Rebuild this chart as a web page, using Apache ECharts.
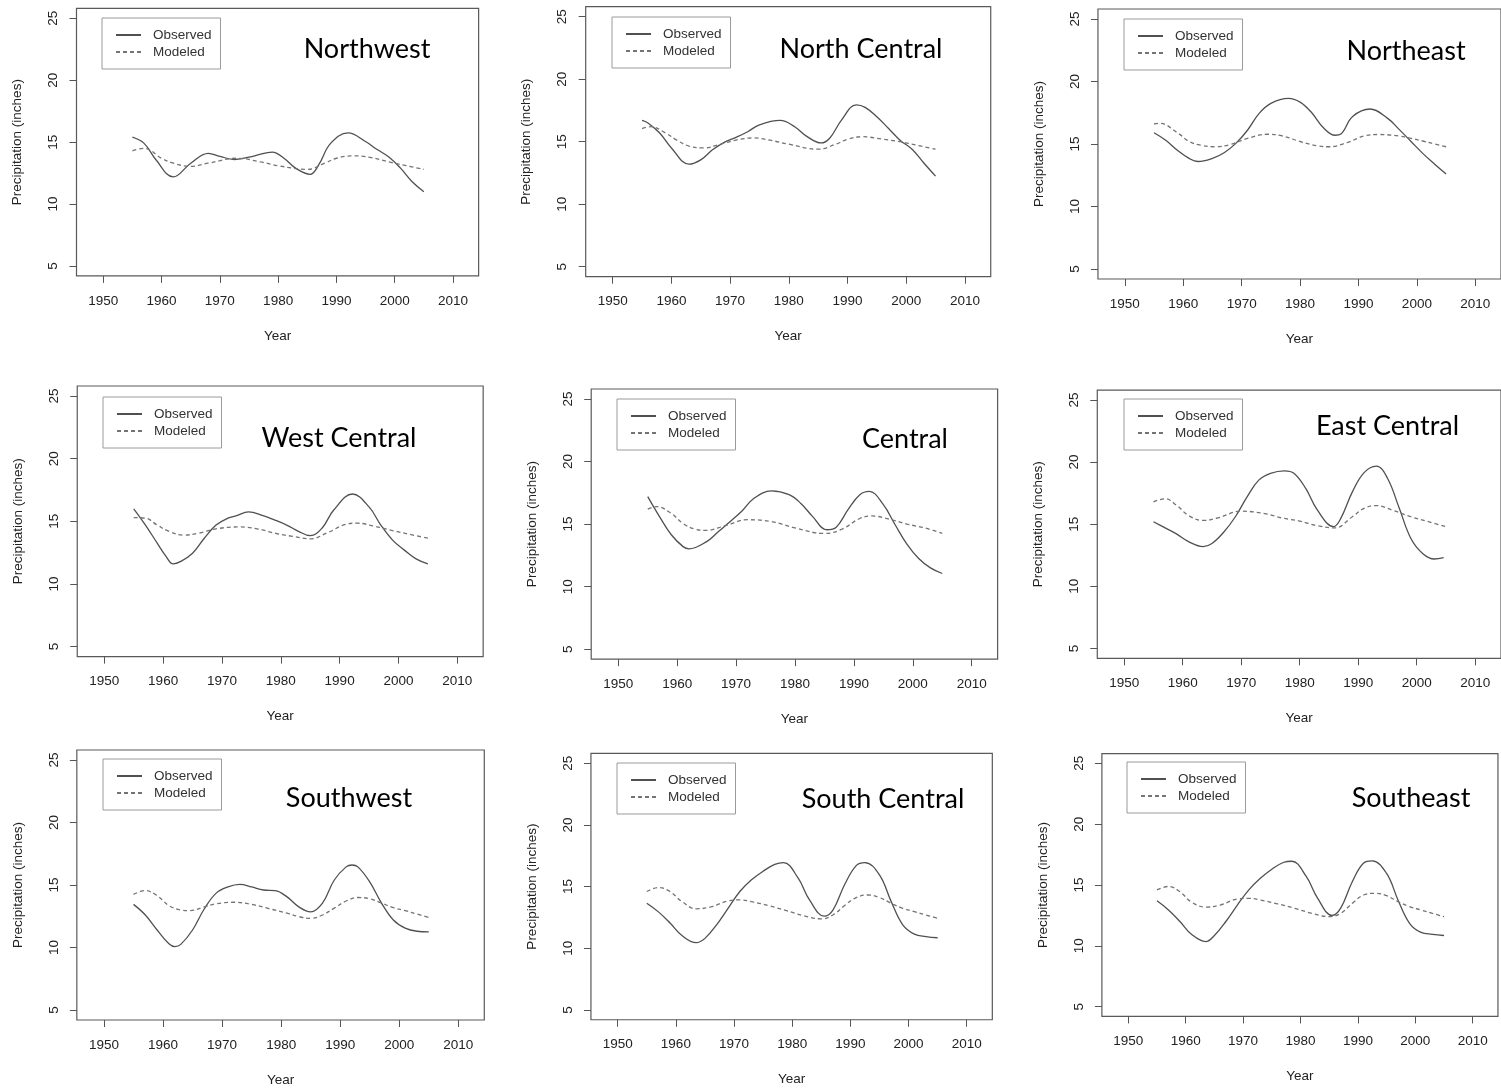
<!DOCTYPE html>
<html>
<head>
<meta charset="utf-8">
<script src="https://cdn.jsdelivr.net/npm/echarts@6/dist/echarts.min.js"></script>
<style>
html,body{margin:0;padding:0;background:#ffffff;}
#chart{width:1501px;height:1091px;}
</style>
</head>
<body>
<div id="chart"></div>
<script>
// ---------------- data: [year, precipitation in inches] ----------------
const regionNames = ['Northwest','North Central','Northeast','West Central','Central','East Central','Southwest','South Central','Southeast'];
const xTickValues = [1950,1960,1970,1980,1990,2000,2010];
const yTickValues = [5,10,15,20,25];

const observedNW = [[1955,15.4],[1957,14.9],[1959,13.6],[1962,12.2],[1965,13.3],[1968,14.1],[1970,13.85],[1972.5,13.6],[1976,13.9],[1979,14.2],[1981,13.7],[1983,12.9],[1985.5,12.4],[1987,13.2],[1989,14.9],[1992,15.75],[1995,15.05],[1997,14.4],[1999,13.8],[2001,12.9],[2003,11.8],[2005,11.0]];
const modeledNW  = [[1955,14.3],[1957,14.5],[1960,13.7],[1962,13.3],[1965,13.05],[1968,13.3],[1973,13.7],[1977,13.4],[1980,13.1],[1985,12.8],[1988,13.3],[1990,13.7],[1993,13.9],[1996,13.75],[1999,13.4],[2002,13.1],[2005,12.8]];

const observedNC = [[1955,16.7],[1956,16.5],[1958,15.7],[1960,14.5],[1963,13.2],[1965,13.55],[1967,14.35],[1969,14.95],[1971,15.35],[1973,15.8],[1975,16.35],[1978.5,16.7],[1981,16.2],[1983,15.45],[1985.5,14.9],[1987,15.3],[1989,16.75],[1991.5,17.95],[1993,17.75],[1995,17.0],[1997,16.05],[1999,15.1],[2001,14.4],[2003,13.3],[2005,12.25]];
const modeledNC  = [[1955,16.05],[1956.5,16.2],[1959,15.7],[1961,15.1],[1963,14.65],[1965.5,14.5],[1968,14.75],[1971,15.13],[1974,15.3],[1977,15.1],[1980,14.8],[1985,14.4],[1988,14.8],[1990,15.2],[1992.5,15.4],[1996,15.2],[1999,15.0],[2002,14.7],[2005,14.4]];

const observedNE = [[1955,15.9],[1957,15.3],[1959,14.5],[1961,13.85],[1962.5,13.6],[1965,13.85],[1967,14.3],[1969,15.05],[1971,16.1],[1973,17.45],[1975,18.25],[1978,18.65],[1980,18.35],[1982,17.5],[1984,16.3],[1986,15.7],[1987,15.8],[1989,17.2],[1992,17.8],[1995,17.05],[1997,16.15],[1999,15.2],[2001,14.25],[2003,13.4],[2005,12.6]];
const modeledNE  = [[1955,16.6],[1956,16.65],[1959,15.9],[1961,15.2],[1963,14.9],[1965.5,14.78],[1968,14.95],[1971,15.45],[1974.5,15.78],[1977,15.64],[1980,15.2],[1983,14.85],[1985,14.78],[1988,15.1],[1991,15.64],[1993.5,15.76],[1997,15.64],[1999,15.45],[2001,15.24],[2003,15.0],[2005,14.78]];

const observedWC = [[1955,16.0],[1957,14.7],[1959,13.25],[1960.5,12.2],[1961.7,11.6],[1963,11.8],[1965,12.45],[1967,13.65],[1969,14.7],[1971,15.25],[1972.5,15.45],[1974.5,15.75],[1977,15.45],[1979,15.1],[1981,14.7],[1983,14.2],[1985,13.85],[1987,14.45],[1989,15.9],[1992.2,17.18],[1995,16.15],[1997,14.7],[1999,13.5],[2001,12.7],[2003,12.0],[2005,11.6]];
const modeledWC  = [[1955,15.3],[1957,15.25],[1959,14.7],[1961,14.2],[1963.5,13.9],[1966,14.05],[1969,14.4],[1973,14.55],[1976,14.4],[1979,14.05],[1982,13.8],[1985,13.6],[1988,14.1],[1991,14.75],[1993,14.85],[1996,14.6],[1999,14.26],[2002,13.95],[2005,13.65]];

const observedC = [[1955,17.2],[1957,15.6],[1959,14.15],[1961,13.2],[1962,13.02],[1965,13.6],[1967,14.4],[1969,15.2],[1971,16.05],[1973,17.05],[1976,17.65],[1979,17.35],[1981,16.65],[1983,15.6],[1985.4,14.55],[1987,14.75],[1989,16.15],[1991,17.35],[1992.6,17.62],[1995,16.55],[1997,14.95],[1999,13.4],[2001,12.25],[2003,11.5],[2005,11.05]];
const modeledC  = [[1955,16.2],[1956.5,16.4],[1959,15.85],[1961,15.05],[1963,14.6],[1965,14.5],[1968,14.85],[1972,15.35],[1976,15.2],[1980,14.7],[1985,14.25],[1988,14.6],[1991,15.45],[1993,15.65],[1996,15.4],[1999,15.0],[2002,14.7],[2005,14.25]];

const observedEC = [[1955,15.2],[1957,14.7],[1959,14.2],[1961,13.6],[1963.5,13.2],[1965,13.45],[1967,14.35],[1969,15.6],[1971,17.2],[1973,18.55],[1975,19.1],[1977.4,19.3],[1979,19.1],[1981,17.9],[1983,16.15],[1985.8,14.8],[1987,15.45],[1989,17.6],[1991,19.15],[1993.1,19.68],[1995,18.7],[1997,16.3],[1999,13.85],[2001,12.65],[2003,12.2],[2004.6,12.3]];
const modeledEC  = [[1955,16.8],[1957,17.05],[1959,16.5],[1961,15.7],[1963.5,15.3],[1966,15.5],[1970,16.05],[1974,15.85],[1977,15.5],[1980,15.25],[1983,14.88],[1986,14.7],[1989,15.6],[1991,16.28],[1993,16.5],[1996,16.1],[1999,15.6],[2002,15.2],[2005,14.8]];

const observedSW = [[1955,13.45],[1957,12.6],[1959,11.4],[1961,10.3],[1962,10.07],[1963,10.25],[1965,11.4],[1967,13.1],[1969,14.35],[1971,14.85],[1973,15.05],[1975,14.85],[1977,14.6],[1979,14.55],[1981,14.05],[1983,13.25],[1985,12.85],[1987,13.55],[1989,15.4],[1991,16.45],[1992,16.6],[1993,16.45],[1995,15.25],[1997,13.55],[1999,12.2],[2001,11.55],[2003,11.3],[2005,11.25]];
const modeledSW  = [[1955,14.25],[1957,14.55],[1959,14.15],[1961,13.35],[1963,13.0],[1964.5,12.95],[1967,13.25],[1969,13.5],[1972,13.62],[1975,13.45],[1978,13.1],[1981,12.75],[1983,12.47],[1985,12.33],[1987,12.6],[1989,13.15],[1991,13.72],[1993,14.0],[1995,13.9],[1997,13.55],[1999,13.19],[2001,12.95],[2003,12.68],[2005,12.4]];

const observedSC = [[1955,13.65],[1957,12.95],[1959,12.05],[1961,11.05],[1963.5,10.45],[1965,10.8],[1967,11.9],[1969,13.25],[1971,14.6],[1973,15.55],[1975,16.25],[1977,16.8],[1978.5,16.95],[1981,15.7],[1983,13.9],[1985.5,12.6],[1987,13.1],[1989,15.15],[1991,16.7],[1992.5,16.95],[1995,15.95],[1997,13.8],[1999,11.9],[2001,11.15],[2003,10.95],[2005,10.85]];
const modeledSC  = [[1955,14.6],[1957,14.92],[1959,14.6],[1961,13.8],[1963.5,13.2],[1966,13.35],[1969,13.84],[1971,13.92],[1973,13.78],[1976,13.45],[1979,13.05],[1982,12.63],[1985,12.38],[1987,12.7],[1989,13.46],[1991,14.11],[1993,14.32],[1995,14.11],[1997,13.65],[1999,13.24],[2001,12.97],[2003,12.7],[2005,12.43]];

const observedSE = [[1955,13.7],[1957,12.95],[1959,12.0],[1961,10.95],[1963.5,10.35],[1965,10.85],[1967,12.0],[1969,13.35],[1971,14.6],[1973,15.55],[1975,16.3],[1977,16.85],[1978.5,16.95],[1981,15.7],[1983,13.9],[1985.5,12.5],[1987,13.1],[1989,15.25],[1991,16.8],[1992.5,16.98],[1995,15.95],[1997,13.75],[1999,11.85],[2001,11.1],[2003,10.95],[2005,10.85]];
const modeledSE  = [[1955,14.6],[1957,14.88],[1959,14.45],[1961,13.6],[1963.5,13.18],[1966,13.35],[1969,13.85],[1971,13.9],[1973,13.77],[1976,13.45],[1979,13.08],[1982,12.67],[1985,12.4],[1987,12.67],[1989,13.49],[1991,14.18],[1993,14.32],[1995,14.12],[1997,13.63],[1999,13.22],[2001,12.95],[2003,12.67],[2005,12.4]];

const observedAll = [observedNW,observedNC,observedNE,observedWC,observedC,observedEC,observedSW,observedSC,observedSE];
const modeledAll  = [modeledNW,modeledNC,modeledNE,modeledWC,modeledC,modeledEC,modeledSW,modeledSC,modeledSE];

// ---------------- layout (pixels) ----------------
// per panel: [pixel x of 1950, px per year, pixel y of 25, px per inch]
const panelLayout = [
  [103.3,5.828,18.3,12.385],[612.7,5.87,16.7,12.5],[1125,5.878,19,12.5],
  [104.3,5.883,396,12.53],[618.3,5.89,399,12.51],[1124.3,5.873,400,12.42],
  [104,5.905,760,12.5],[617.7,5.817,763.3,12.33],[1128.3,5.74,763.3,12.17]
];
// region label: [center x, top y]
const labelLayout = [
  [367,36],[861,36],[1406,38],
  [339,425],[905,425.5],[1387.5,413],
  [349,784.5],[883,785.5],[1411,784.5]
];
// legend box: [left, top]
const legendLayout = [
  [102,18],[612,17],[1124,19],
  [103,397],[617,399],[1124,399],
  [103,759],[617,763],[1127,762]
];

const XMIN = 1945.4, XMAX = 2014.4, YMIN = 4.2, YMAX = 25.8;
const tickFont = 'Liberation Sans, Arial, sans-serif';
const axisColor = '#555';

const grids = [], xAxes = [], yAxes = [], series = [], legends = [], graphics = [];
panelLayout.forEach((p, i) => {
  const [x1950, ppy, y25, ppu] = p;
  grids.push({
    left: x1950 - (1950 - XMIN) * ppy,
    top: y25 - (YMAX - 25) * ppu,
    width: (XMAX - XMIN) * ppy,
    height: (YMAX - YMIN) * ppu,
    show: true, borderColor: '#5a5a5a', borderWidth: 1.2, backgroundColor: 'transparent',
    containLabel: false
  });
  xAxes.push({
    gridIndex: i, type: 'value', min: XMIN, max: XMAX,
    axisLine: { show: false }, splitLine: { show: false },
    axisTick: { show: true, inside: false, length: 7, customValues: xTickValues, lineStyle: { color: axisColor, width: 1 } },
    axisLabel: { customValues: xTickValues, formatter: v => String(v), margin: 18, fontSize: 13.5, color: '#222', fontFamily: tickFont },
    name: 'Year', nameLocation: 'middle', nameGap: 53,
    nameTextStyle: { fontSize: 13.5, color: '#222', fontFamily: tickFont }
  });
  yAxes.push({
    gridIndex: i, type: 'value', min: YMIN, max: YMAX,
    axisLine: { show: false }, splitLine: { show: false },
    axisTick: { show: true, inside: false, length: 7, customValues: yTickValues, lineStyle: { color: axisColor, width: 1 } },
    axisLabel: { customValues: yTickValues, formatter: v => String(v), rotate: 90, margin: 16, fontSize: 13.5, color: '#222', fontFamily: tickFont },
    name: 'Precipitation (inches)', nameLocation: 'middle', nameGap: 52,
    nameTextStyle: { fontSize: 13.5, color: '#222', fontFamily: tickFont }
  });
  series.push({
    name: 'Observed', type: 'line', xAxisIndex: i, yAxisIndex: i,
    data: observedAll[i],
    smooth: 0.4, symbol: 'none', silent: true,
    lineStyle: { color: '#505050', width: 1.3, type: 'solid' },
    itemStyle: { color: '#505050' }
  });
  series.push({
    name: 'Modeled', type: 'line', xAxisIndex: i, yAxisIndex: i,
    data: modeledAll[i],
    smooth: 0.4, symbol: 'none', silent: true,
    lineStyle: { color: '#747474', width: 1.3, type: [4, 3] },
    itemStyle: { color: '#747474' }
  });
  legends.push({
    data: ['Observed', 'Modeled'], orient: 'vertical',
    left: legendLayout[i][0], top: legendLayout[i][1],
    padding: [10, 9, 10, 13], itemWidth: 25, itemHeight: 14, itemGap: 3,
    borderColor: '#9a9a9a', borderWidth: 1, borderRadius: 0,
    selectedMode: false,
    itemStyle: { color: 'rgba(0,0,0,0)', borderColor: 'rgba(0,0,0,0)', borderWidth: 0, opacity: 0 },
    textStyle: { fontSize: 13.5, color: '#333', fontFamily: tickFont, lineHeight: 14, padding: [0, 0, 0, 7] }
  });
  graphics.push({
    type: 'text', x: labelLayout[i][0], y: labelLayout[i][1], silent: true,
    style: { text: regionNames[i], fill: '#000', fontSize: 27, fontFamily: 'Lato, Carlito, sans-serif', align: 'center', verticalAlign: 'top' }
  });
});

const chart = echarts.init(document.getElementById('chart'), null, { renderer: 'canvas' });
chart.setOption({
  backgroundColor: '#ffffff',
  animation: false,
  grid: grids,
  xAxis: xAxes,
  yAxis: yAxes,
  legend: legends,
  graphic: graphics,
  series: series
});
</script>
</body>
</html>
